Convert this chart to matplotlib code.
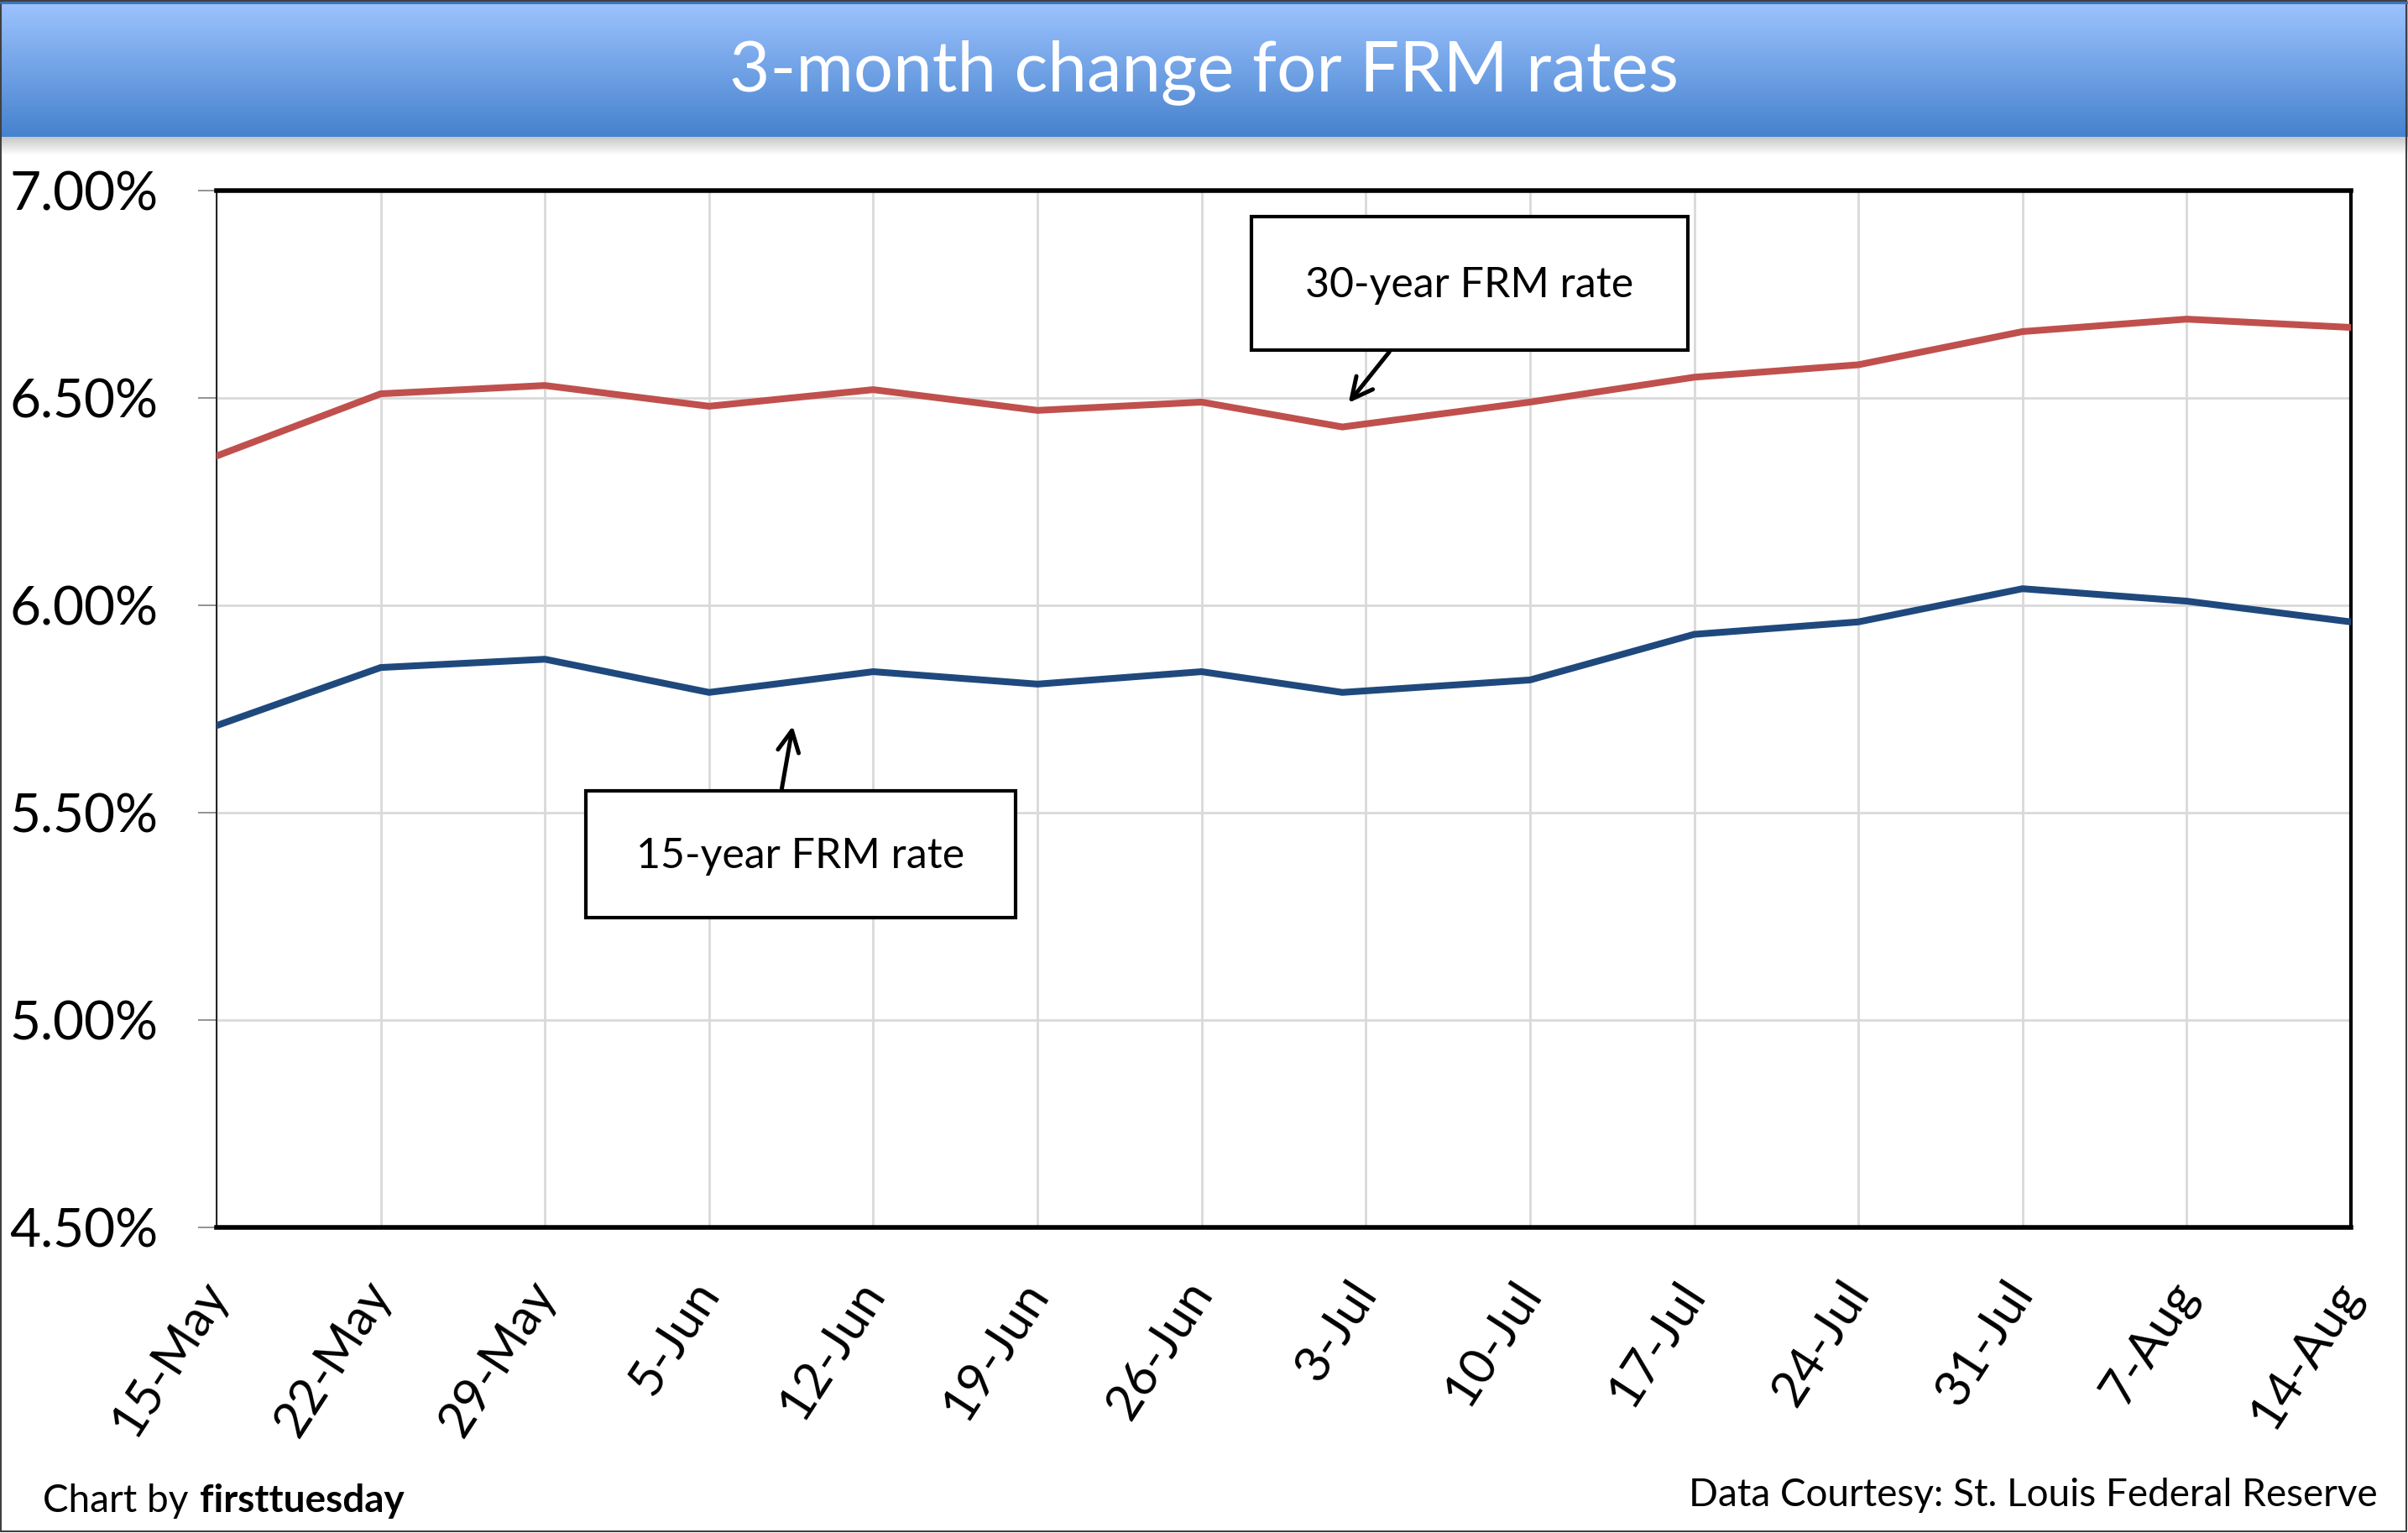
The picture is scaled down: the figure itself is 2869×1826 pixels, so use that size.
import numpy as np
import pandas as pd
import matplotlib
matplotlib.use("Agg")
import matplotlib.pyplot as plt
from matplotlib.patches import Rectangle, FancyArrowPatch
from matplotlib.ticker import FuncFormatter

plt.rcParams['font.family'] = ['Lato', 'DejaVu Sans']

# weekly survey dates (the holiday week was published a day early)
dates = ["2008-05-15", "2008-05-22", "2008-05-29", "2008-06-05", "2008-06-12",
         "2008-06-19", "2008-06-26", "2008-07-02", "2008-07-10", "2008-07-17",
         "2008-07-24", "2008-07-31", "2008-08-07", "2008-08-14"]
rate_30yr = [6.36, 6.51, 6.53, 6.48, 6.52, 6.47, 6.49, 6.43, 6.49, 6.55,
             6.58, 6.66, 6.69, 6.67]
rate_15yr = [5.71, 5.85, 5.87, 5.79, 5.84, 5.81, 5.84, 5.79, 5.82, 5.93,
             5.96, 6.04, 6.01, 5.96]
tick_labels = ["15-May", "22-May", "29-May", "5-Jun", "12-Jun", "19-Jun", "26-Jun",
               "3-Jul", "10-Jul", "17-Jul", "24-Jul", "31-Jul", "7-Aug", "14-Aug"]
yticks = [4.5, 5.0, 5.5, 6.0, 6.5, 7.0]

W, H = 2869, 1826
fig = plt.figure(figsize=(W / 100, H / 100), dpi=100)
fig.patch.set_facecolor('white')

# background layer: title band + shadow
bg = fig.add_axes([0, 0, 1, 1], zorder=0)
bg.set_xlim(0, W)
bg.set_ylim(H, 0)
bg.axis('off')
top_c = np.array([158, 196, 255]) / 255
bot_c = np.array([70, 130, 206]) / 255
t = np.linspace(0, 1, 200)[:, None]
grad = top_c * (1 - t) + bot_c * t
bg.imshow(grad[:, None, :], extent=[0, W, 163, 0], aspect='auto')
sh = np.linspace(0, 1, 50)[:, None]
shadow = np.array([0.78, 0.78, 0.78]) * (1 - sh) + np.array([1, 1, 1]) * sh
bg.imshow(shadow[:, None, :], extent=[0, W, 185, 163], aspect='auto')
bg.plot([0, W], [3, 3], color='#3A6EB8', lw=2)
bg.text(W / 2, 86, "3-month change for FRM rates", color='white', fontsize=60,
        ha='center', va='center')
t1 = bg.text(51, 1788, "Chart by ", fontsize=33, ha='left', va='center')
fig.canvas.draw()
bb = t1.get_window_extent()
bg.text(bb.x1 + 2, 1788, "firsttuesday", fontsize=33, ha='left', va='center',
        fontweight='bold', transform=matplotlib.transforms.blended_transform_factory(
            matplotlib.transforms.IdentityTransform(), bg.transData))
bg.text(2833, 1781, "Data Courtesy: St. Louis Federal Reserve", fontsize=33,
        ha='right', va='center')
bg.add_patch(Rectangle((1, 1), W - 3, H - 3, fill=False, ec='#404040', lw=1.5))

# main plot
ax = fig.add_axes([258 / W, 1 - 1462 / H, (2801 - 258) / W, (1462 - 227) / H], zorder=1)
x = pd.to_datetime(dates)
tick_pos = pd.to_datetime(["2008-" + s for s in tick_labels], format="%Y-%d-%b")
ax.plot(x, rate_30yr, color='#C0504D', lw=5.8, solid_joinstyle='miter', zorder=3)
ax.plot(x, rate_15yr, color='#1F497D', lw=5.8, solid_joinstyle='miter', zorder=3)
ax.set_xlim(tick_pos[0], tick_pos[-1])
ax.set_ylim(4.5, 7.0)
ax.set_yticks(yticks)
ax.yaxis.set_major_formatter(FuncFormatter(lambda v, p: f"{v:.2f}%"))
ax.set_xticks(tick_pos)
ax.set_xticklabels(tick_labels, rotation=57, ha='right', va='center',
                   rotation_mode='anchor', fontsize=43)
ax.tick_params(axis='x', length=0, pad=50)
ax.tick_params(axis='y', length=16, width=1.2, color='#808080', pad=34, labelsize=46)
ax.grid(True, color='#D9D9D9', lw=2)
ax.set_axisbelow(True)
for side, lw in [('top', 4.0), ('bottom', 4.0), ('right', 3.0), ('left', 1.2)]:
    ax.spines[side].set_linewidth(lw)
    ax.spines[side].set_color('black')

# callout overlay
ov = fig.add_axes([0, 0, 1, 1], zorder=2)
ov.set_xlim(0, W)
ov.set_ylim(H, 0)
ov.axis('off')
ov.patch.set_alpha(0)
ov.add_patch(Rectangle((1491, 258), 520, 159, fc='white', ec='black', lw=3))
ov.text(1751, 340, "30-year FRM rate", fontsize=36, ha='center', va='center')
ov.add_patch(FancyArrowPatch((1657, 417), (1605, 482), arrowstyle='->,head_length=0.9,head_width=0.45',
                             color='black', lw=3.6, mutation_scale=20))
ov.add_patch(Rectangle((698, 942), 512, 151, fc='white', ec='black', lw=3))
ov.text(954, 1020, "15-year FRM rate", fontsize=36, ha='center', va='center')
ov.add_patch(FancyArrowPatch((931, 942), (945, 862), arrowstyle='->,head_length=0.9,head_width=0.45',
                             color='black', lw=3.6, mutation_scale=20))

fig.savefig("out.png", dpi=100)
